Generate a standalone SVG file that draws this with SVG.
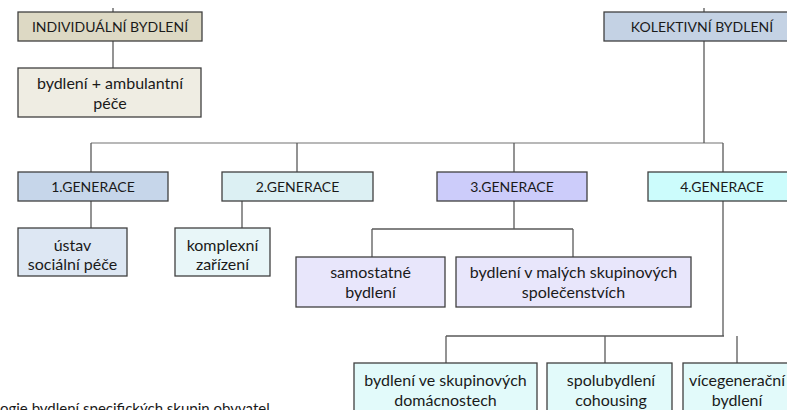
<svg xmlns="http://www.w3.org/2000/svg" width="787" height="410" viewBox="0 0 787 410">
<style>
.box{stroke:#404040;stroke-width:1.3}
.t{font-family:Lato,"Open Sans","Liberation Sans",sans-serif;font-size:14px;fill:#1a1a1a;text-anchor:middle}
.b{font-size:16px}
.c{stroke:#5a5a5a;stroke-width:1.3;fill:none}
.h{stroke:#a0a0a0;stroke-width:1.3;fill:none}
</style>
<rect width="787" height="410" fill="#ffffff"/>
<g id="connectors">
<path class="c" d="M113 8V12M704 8V12"/>
<path class="c" d="M113 41V68"/>
<path class="h" d="M91 143H723"/>
<path class="c" d="M704 41V143M91 143V172M297 143V172M514 143V172M723 143V172"/>
<path class="c" d="M91 201V228M242 201V228"/>
<path class="c" d="M514 201V229M372 229H573M372 229V257M573 229V257"/>
<path class="c" d="M723 201V336M446 336H724M446 336V363M605 336V363M737 336V363"/>
</g>
<g id="individualni">
<rect class="box" x="18" y="12" width="184" height="29" fill="#ddd9c4"/>
<text class="t" x="110" y="32">INDIVIDUÁLNÍ BYDLENÍ</text>
</g>
<g id="ambulantni">
<rect class="box" x="18" y="68" width="183" height="49" fill="#efede3"/>
<text class="t b" x="110" y="89">bydlení + ambulantní</text>
<text class="t b" x="110" y="109">péče</text>
</g>
<g id="kolektivni">
<rect class="box" x="604" y="12" width="196" height="29" fill="#c4d2e4"/>
<text class="t" x="702" y="32">KOLEKTIVNÍ BYDLENÍ</text>
</g>
<g id="gen1">
<rect class="box" x="18" y="172" width="150" height="29" fill="#c6d6ea"/>
<text class="t" x="93" y="192">1.GENERACE</text>
</g>
<g id="gen2">
<rect class="box" x="222" y="172" width="151" height="29" fill="#dcf0f3"/>
<text class="t" x="297.5" y="192">2.GENERACE</text>
</g>
<g id="gen3">
<rect class="box" x="437" y="172" width="150" height="29" fill="#ccccfa"/>
<text class="t" x="512" y="192">3.GENERACE</text>
</g>
<g id="gen4">
<rect class="box" x="648" y="172" width="150" height="29" fill="#ccfcfc"/>
<text class="t" x="722" y="192">4.GENERACE</text>
</g>
<g id="ustav">
<rect class="box" x="18" y="228" width="109" height="48" fill="#dde7f3"/>
<text class="t b" x="72.5" y="251">ústav</text>
<text class="t b" x="72.5" y="270">sociální péče</text>
</g>
<g id="komplexni">
<rect class="box" x="175" y="228" width="95" height="48" fill="#e8f6f8"/>
<text class="t b" x="222.5" y="251">komplexní</text>
<text class="t b" x="222.5" y="270">zařízení</text>
</g>
<g id="samostatne">
<rect class="box" x="296" y="257" width="149" height="50" fill="#e8e6fb"/>
<text class="t b" x="370.5" y="278">samostatné</text>
<text class="t b" x="370.5" y="298">bydlení</text>
</g>
<g id="male-skupiny">
<rect class="box" x="456" y="257" width="235" height="50" fill="#e8e6fb"/>
<text class="t b" x="573.5" y="278">bydlení v malých skupinových</text>
<text class="t b" x="573.5" y="298">společenstvích</text>
</g>
<g id="domacnosti">
<rect class="box" x="354" y="363" width="183" height="52" fill="#e2fafa"/>
<text class="t b" x="445.5" y="386">bydlení ve skupinových</text>
<text class="t b" x="445.5" y="406">domácnostech</text>
</g>
<g id="cohousing">
<rect class="box" x="547" y="363" width="125" height="52" fill="#e2fafa"/>
<text class="t b" x="611" y="386">spolubydlení</text>
<text class="t b" x="611" y="406">cohousing</text>
</g>
<g id="vicegeneracni">
<rect class="box" x="683" y="363" width="110" height="52" fill="#e2fafa"/>
<text class="t b" x="737" y="386">vícegenerační</text>
<text class="t b" x="737" y="406">bydlení</text>
</g>
<text x="0" y="414" style="font-family:Lato,'Open Sans','Liberation Sans',sans-serif;font-size:15px;fill:#1a1a1a">ogie bydlení specifických skupin obyvatel</text>
</svg>
